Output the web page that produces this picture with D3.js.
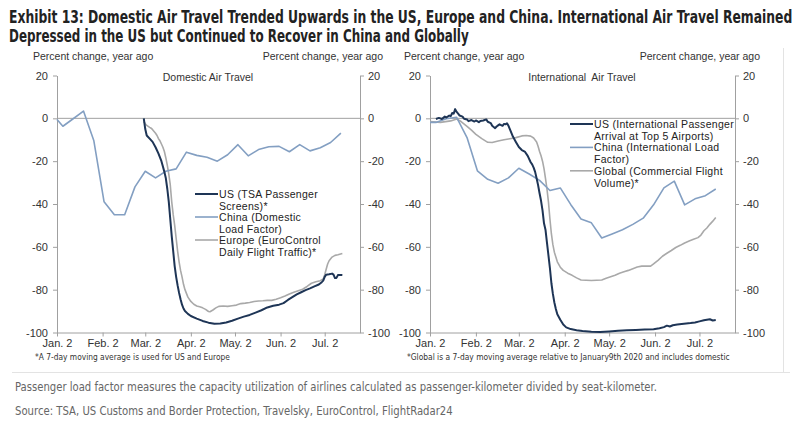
<!DOCTYPE html>
<html><head><meta charset="utf-8">
<script src="https://cdn.jsdelivr.net/npm/d3@7"></script>
<style>
body{margin:0;background:#fff;}
svg{display:block;}
text{font-family:"Liberation Sans",Arial,sans-serif;}
.narrow{font-family:"DejaVu Sans Condensed","Liberation Sans",sans-serif;}
</style></head>
<body>
<svg id="c" width="800" height="424"></svg>
<script>
// ---------------- DATA ----------------
const title1 = "Exhibit 13: Domestic Air Travel Trended Upwards in the US, Europe and China. International Air Travel Remained";
const title2 = "Depressed in the US but Continued to Recover in China and Globally";
const note1 = "Passenger load factor measures the capacity utilization of airlines calculated as passenger-kilometer divided by seat-kilometer.";
const note2 = "Source: TSA, US Customs and Border Protection, Travelsky, EuroControl, FlightRadar24";
const axisTitle = "Percent change, year ago";
const yTicks = [20, 0, -20, -40, -60, -80, -100];
const xTickDates = ["1/2", "2/2", "3/2", "4/2", "5/2", "6/2", "7/2"];
const xDomain = ["1/2", "7/26"];

// Domestic panel
const usDomestic = [
 ["3/1",0],["3/2",-5],["3/3",-8],["3/5",-9.5],["3/7",-11],["3/9",-13.5],["3/11",-16.5],["3/13",-20],
 ["3/14",-22.5],["3/15",-25],["3/16",-28],["3/17",-33],["3/18",-39],["3/19",-47],["3/20",-55],
 ["3/21",-62],["3/22",-69],["3/23",-74],["3/24",-78],["3/25",-81.5],["3/26",-84.5],["3/27",-87],
 ["3/28",-88.8],["3/29",-90],["3/31",-91.3],["4/2",-92.3],["4/6",-93.5],["4/10",-94.6],["4/14",-95.4],
 ["4/18",-95.9],["4/22",-95.8],["4/26",-95.3],["4/30",-94.5],["5/4",-93.5],["5/8",-92.6],["5/12",-91.8],
 ["5/16",-90.7],["5/20",-89.6],["5/24",-88.3],["5/28",-87.5],["6/1",-87],["6/4",-86.3],["6/7",-84.8],
 ["6/10",-83.5],["6/13",-82.2],["6/16",-81.2],["6/19",-80.2],["6/22",-79.4],["6/25",-78.5],["6/28",-77.6],
 ["6/30",-76.5],["7/1",-75.8],["7/2",-74],["7/3",-73],["7/5",-72.8],["7/7",-72.5],["7/8",-73],
 ["7/9",-74.6],["7/10",-74.5],["7/11",-73.2],["7/12",-73.1],["7/14",-73.2]
];
const chinaDomestic = [
 ["1/2",-0.5],["1/6",-3.7],["1/13",-0.2],["1/20",3.4],["1/27",-10.3],["2/3",-39],["2/10",-45],["2/17",-45],
 ["2/24",-32],["3/2",-24.7],["3/9",-27.8],["3/16",-24.7],["3/23",-23.6],["3/30",-15.8],["4/6",-17.3],
 ["4/13",-18.2],["4/20",-20],["4/27",-17],["5/4",-12.3],["5/11",-17.5],["5/18",-14.6],["5/25",-13.3],
 ["6/1",-13.1],["6/8",-15.6],["6/15",-12.3],["6/22",-15.2],["6/29",-13.7],["7/6",-11.3],["7/13",-6.9]
];
const europeDomestic = [
 ["3/1",-1.5],["3/2",-2.5],["3/3",-3.3],["3/5",-4.2],["3/6",-4.6],["3/7",-5.3],["3/9",-7],["3/10",-8],
 ["3/11",-9.5],["3/12",-10.5],["3/13",-12],["3/14",-13.5],["3/15",-15.5],["3/16",-18.5],["3/17",-22],
 ["3/18",-26],["3/19",-31],["3/20",-39],["3/21",-45],["3/22",-50],["3/23",-56],["3/24",-62],["3/25",-67],
 ["3/26",-71],["3/27",-74],["3/28",-77.5],["3/29",-80],["3/31",-83.5],["4/2",-85.5],["4/4",-86.8],
 ["4/6",-87.6],["4/8",-88],["4/10",-88.5],["4/12",-89.2],["4/14",-90.2],["4/15",-90.3],["4/17",-89.5],
 ["4/19",-88.5],["4/21",-87.8],["4/24",-87.6],["4/27",-87.8],["4/30",-87.5],["5/3",-87.2],["5/6",-86.5],
 ["5/9",-86.3],["5/12",-86],["5/15",-85.5],["5/18",-85.3],["5/21",-85.2],["5/24",-85],["5/27",-85],
 ["5/30",-84.5],["6/2",-83.8],["6/5",-83],["6/8",-82],["6/11",-81.2],["6/14",-80.5],["6/17",-79.8],
 ["6/20",-78.5],["6/23",-77],["6/26",-76.3],["6/29",-75.8],["7/1",-75],["7/2",-73],["7/3",-70.5],
 ["7/4",-68],["7/5",-66.5],["7/7",-64.8],["7/9",-64],["7/11",-63.7],["7/14",-63.1]
];

// International panel
const usIntl = [
 ["1/6",-0.3],["1/8",0.2],["1/10",-0.3],["1/12",0.8],["1/13",0.4],["1/15",1.3],["1/16",1.0],["1/17",2.5],
 ["1/18",2.2],["1/19",4.3],["1/20",3.0],["1/21",2.2],["1/22",1.3],["1/24",0.8],["1/25",-0.2],["1/27",-0.5],
 ["1/28",-1.3],["1/30",-0.8],["2/1",-1.5],["2/2",-1.0],["2/4",-1.8],["2/5",-1.2],["2/7",-1.0],["2/9",-0.5],
 ["2/10",-1.6],["2/12",-2.2],["2/13",-3.5],["2/15",-4.6],["2/16",-3.8],["2/17",-3.3],["2/18",-2.8],
 ["2/20",-3.5],["2/21",-2.6],["2/22",-2.8],["2/23",-2.3],["2/24",-3.5],["2/25",-5.2],["2/27",-8.5],
 ["2/29",-11],["3/2",-13.4],["3/4",-14.8],["3/6",-15.5],["3/8",-17.5],["3/10",-20.5],["3/11",-21.5],
 ["3/12",-23],["3/13",-25],["3/14",-28],["3/15",-31.2],["3/16",-35],["3/17",-38.5],["3/18",-43],
 ["3/19",-49],["3/20",-52],["3/21",-58],["3/22",-64],["3/23",-70],["3/24",-77],["3/25",-82],
 ["3/26",-86],["3/27",-89],["3/28",-91.5],["3/30",-94],["4/1",-96.3],["4/3",-97.6],["4/6",-98.4],
 ["4/10",-98.9],["4/14",-99.3],["4/20",-99.6],["4/26",-99.8],["5/2",-99.5],["5/8",-99.2],["5/14",-99],
 ["5/20",-98.8],["5/26",-98.6],["6/1",-98.5],["6/5",-98],["6/8",-97.5],["6/10",-96.8],["6/12",-97.2],
 ["6/14",-96.6],["6/17",-96.3],["6/20",-96],["6/23",-95.8],["6/26",-95.6],["6/29",-95.3],["7/2",-94.8],
 ["7/5",-94.3],["7/7",-94],["7/9",-93.8],["7/11",-94.4],["7/13",-94.2]
];
const chinaIntl = [
 ["1/2",-1.9],["1/6",-1.9],["1/13",-0.2],["1/20",0.5],["1/27",-9],["2/3",-24.5],["2/10",-28.5],
 ["2/17",-30.3],["2/24",-27.8],["3/2",-23.3],["3/9",-26],["3/16",-29],["3/23",-33.7],["3/30",-32.5],
 ["4/6",-40.2],["4/13",-47],["4/20",-48.8],["4/27",-55.9],["5/4",-54],["5/11",-52],["5/18",-49.5],
 ["5/25",-46.6],["6/1",-40.4],["6/8",-32.5],["6/15",-29.3],["6/22",-40.4],["6/29",-37.6],["7/6",-36.1],
 ["7/13",-33]
];
const globalIntl = [
 ["1/2",-1.5],["1/9",-1.9],["1/16",-1.2],["1/20",-0.3],["1/23",-1.5],["1/27",-3.8],["1/30",-5.5],
 ["2/2",-7.5],["2/6",-9.5],["2/10",-11.2],["2/13",-11.3],["2/17",-10.6],["2/21",-10],["2/25",-9.5],
 ["2/29",-9],["3/4",-8.2],["3/7",-8],["3/10",-8.3],["3/12",-9.2],["3/14",-11],["3/15",-13],["3/16",-15.5],
 ["3/17",-17.5],["3/18",-20],["3/19",-23.5],["3/20",-28],["3/21",-33],["3/22",-39],["3/23",-47],
 ["3/24",-54],["3/25",-59],["3/26",-62.5],["3/28",-67],["3/30",-69.5],["4/1",-71],["4/4",-72.3],
 ["4/7",-73.3],["4/10",-74.5],["4/13",-75.5],["4/20",-75.7],["4/27",-75.5],["4/30",-74.7],["5/3",-74],
 ["5/6",-73.3],["5/9",-72.3],["5/12",-71.6],["5/15",-71],["5/18",-70.2],["5/21",-69.4],["5/24",-69],
 ["5/27",-69],["5/30",-69],["6/1",-68],["6/4",-66.3],["6/7",-64.4],["6/10",-63],["6/13",-61.7],
 ["6/16",-60.3],["6/19",-59.3],["6/22",-58.2],["6/25",-57.3],["6/28",-56.5],["7/1",-55.7],["7/3",-54.5],
 ["7/5",-52.5],["7/7",-51.2],["7/9",-49.5],["7/11",-48],["7/13",-46.3]
];

const panels = [
 {title:"Domestic Air Travel", foot:"*A 7-day moving average is used for US and Europe",
  series:[
   {name:["US (TSA Passenger","Screens)*"], data:usDomestic, color:"#1e3556", width:2},
   {name:["China (Domestic","Load Factor)"], data:chinaDomestic, color:"#839fc2", width:1.6},
   {name:["Europe (EuroControl","Daily Flight Traffic)*"], data:europeDomestic, color:"#a9a9a9", width:1.6}
  ]},
 {title:"International  Air Travel", foot:"*Global is a 7-day moving average relative to January9th 2020 and includes domestic",
  series:[
   {name:["US (International Passenger","Arrival at Top 5 Airports)"], data:usIntl, color:"#1e3556", width:2},
   {name:["China (International Load","Factor)"], data:chinaIntl, color:"#839fc2", width:1.6},
   {name:["Global (Commercial Flight","Volume)*"], data:globalIntl, color:"#a9a9a9", width:1.6}
  ]}
];

// ---------------- LAYOUT ----------------
const parse = s => d3.timeParse("%m/%d/%Y")(s + "/2020");
const svg = d3.select("#c");
const layout = [
 {x0:57, x1:360, yTop:75.5, yBot:332.5, axL:33, axR:383, titleX:208, legX:195, legY:194, legDy:11.5, footX:35, footW:195},
 {x0:430, x1:735, yTop:75.5, yBot:332.5, axL:404, axR:760, titleX:582, legX:570, legY:124, legDy:11.7, footX:407, footW:323}
];

// text squeezed horizontally to a target width (keeps real glyph height)
function fitText(parent, str, x, y, size, width, attrs) {
 const t = parent.append("text").attr("class","narrow").attr("font-size",size).text(str);
 Object.entries(attrs || {}).forEach(([k,v]) => t.attr(k,v));
 const w = t.node().getComputedTextLength();
 const sx = Math.min(1, width / w);
 t.attr("transform",`translate(${x},${y}) scale(${sx},1)`);
 return t;
}

// title
fitText(svg, title1, 9, 23, 17, 784, {"font-weight":"bold","fill":"#222"});
fitText(svg, title2, 9, 42, 17, 460, {"font-weight":"bold","fill":"#222"});

// frame lines
svg.append("line").attr("x1",783.5).attr("x2",783.5).attr("y1",48).attr("y2",372).attr("stroke","#e3e3e3");
svg.append("line").attr("x1",12).attr("x2",790).attr("y1",372.5).attr("y2",372.5).attr("stroke","#e3e3e3");

// notes
fitText(svg, note1, 15, 391, 12.5, 642, {"fill":"#666"});
fitText(svg, note2, 15, 415, 12.5, 438, {"fill":"#666"});

panels.forEach((p, i) => {
 const L = layout[i];
 const x = d3.scaleTime().domain(xDomain.map(parse)).range([L.x0, L.x1]);
 const y = d3.scaleLinear().domain([-100, 20]).range([L.yBot, L.yTop]);
 const g = svg.append("g");
 const axCol = "#a0a0a0";

 // zero line
 g.append("line").attr("x1",L.x0).attr("x2",L.x1).attr("y1",y(0)).attr("y2",y(0)).attr("stroke",axCol).attr("stroke-width",1);

 const styleAxis = (sel) => {
  sel.select(".domain").attr("stroke",axCol);
  sel.selectAll(".tick line").attr("stroke",axCol);
  sel.selectAll("text").attr("fill","#333").attr("font-size",11).attr("font-family","'Liberation Sans',Arial,sans-serif");
 };
 const yl = g.append("g").attr("transform",`translate(${L.x0},0)`)
  .call(d3.axisLeft(y).tickValues(yTicks).tickSize(4).tickSizeOuter(0).tickPadding(5).tickFormat(d=>String(d)));
 styleAxis(yl);
 const yr = g.append("g").attr("transform",`translate(${L.x1},0)`)
  .call(d3.axisRight(y).tickValues(yTicks).tickSize(4).tickSizeOuter(0).tickPadding(4).tickFormat(d=>String(d)));
 styleAxis(yr);
 const xa = g.append("g").attr("transform",`translate(0,${L.yBot})`)
  .call(d3.axisBottom(x).tickValues(xTickDates.map(parse)).tickSize(4).tickSizeOuter(0).tickPadding(3).tickFormat(d3.timeFormat("%b. %-d")));
 styleAxis(xa);

 // axis titles
 g.append("text").attr("x",L.axL).attr("y",60).attr("font-size",10.5).attr("fill","#333").text(axisTitle);
 g.append("text").attr("x",L.axR).attr("y",60).attr("font-size",10.5).attr("fill","#333").attr("text-anchor","end").text(axisTitle);
 // panel title
 g.append("text").attr("x",L.titleX).attr("y",81).attr("font-size",10.5).attr("fill","#333").attr("text-anchor","middle")
  .attr("xml:space","preserve").text(p.title);

 // lines (lighter first, US on top)
 const line = d3.line().x(d => x(parse(d[0]))).y(d => y(d[1]));
 [2,1,0].forEach(k => {
  const s = p.series[k];
  g.append("path").datum(s.data).attr("d",line).attr("fill","none").attr("stroke",s.color)
   .attr("stroke-width",s.width).attr("stroke-linejoin","round");
 });

 // legend
 p.series.forEach((s, k) => {
  const cy = L.legY + k * 2 * L.legDy;
  g.append("line").attr("x1",L.legX).attr("x2",L.legX+23).attr("y1",cy).attr("y2",cy)
   .attr("stroke",s.color).attr("stroke-width",s.width);
  s.name.forEach((t, j) => {
   g.append("text").attr("x",L.legX+24).attr("y",cy + j*L.legDy + 4).attr("font-size",10.5)
    .attr("letter-spacing",0.3).attr("fill","#222").text(t);
  });
 });

 // footnote
 fitText(g, p.foot, L.footX, 360, 8.5, L.footW, {"fill":"#333"});
});
</script>
</body></html>
